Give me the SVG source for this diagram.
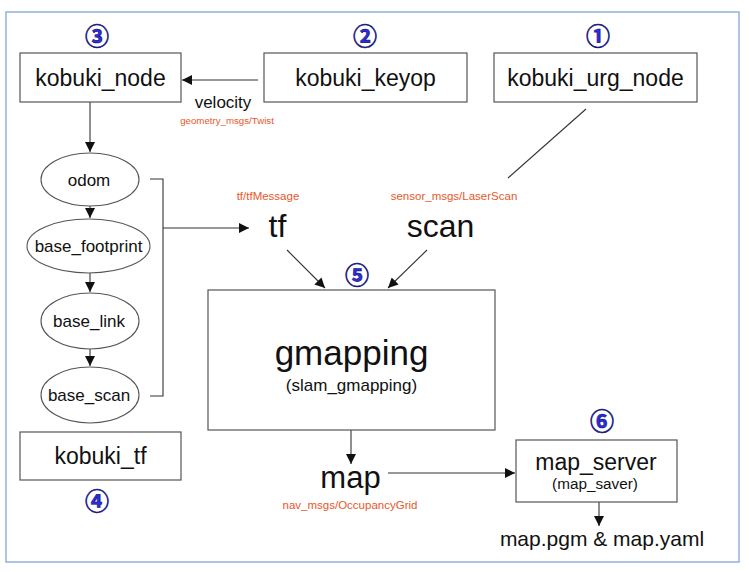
<svg xmlns="http://www.w3.org/2000/svg" width="749" height="572" viewBox="0 0 749 572">
<style>
.frame{fill:#fff;stroke:#95b0dc;stroke-width:1.5}
.box{fill:#fff;stroke:#555;stroke-width:1.2}
.ell{fill:#fff;stroke:#555;stroke-width:1.1}
.t{font-family:"Liberation Sans",Arial,sans-serif;fill:#111;text-anchor:middle}
.msg{font-family:"Liberation Sans",Arial,sans-serif;fill:#e8582a;text-anchor:middle;font-size:11.5px}
.num{font-family:"Noto Sans CJK JP","DejaVu Sans",sans-serif;font-weight:bold;fill:#2c2ce0;stroke:#10106a;stroke-width:0.6;text-anchor:middle;font-size:24px}
.ln{fill:none;stroke:#333;stroke-width:1.1}
</style>
<defs>
<marker id="ah" viewBox="0 0 10 10" refX="10" refY="5" markerWidth="10" markerHeight="10" markerUnits="userSpaceOnUse" orient="auto">
<path d="M0,0 L10,5 L0,10 z" fill="#111"/>
</marker>
</defs>
<rect class="frame" x="6" y="12" width="733" height="550"/>

<g id="connectors">
<line class="ln" x1="258" y1="80" x2="182" y2="80" marker-end="url(#ah)"/>
<line class="ln" x1="90" y1="102" x2="90" y2="152" marker-end="url(#ah)"/>
<line class="ln" x1="90" y1="206" x2="90" y2="218" marker-end="url(#ah)"/>
<line class="ln" x1="90" y1="273" x2="90" y2="292" marker-end="url(#ah)"/>
<line class="ln" x1="90" y1="349" x2="90" y2="366" marker-end="url(#ah)"/>
<polyline class="ln" points="150,179 163,179 163,396 150,396"/>
<line class="ln" x1="163" y1="228" x2="249" y2="228" marker-end="url(#ah)"/>
<line class="ln" x1="586" y1="109" x2="508" y2="178"/>
<line class="ln" x1="287" y1="250" x2="325" y2="288" marker-end="url(#ah)"/>
<line class="ln" x1="427" y1="250" x2="388" y2="288" marker-end="url(#ah)"/>
<line class="ln" x1="351" y1="430" x2="351" y2="464" marker-end="url(#ah)"/>
<line class="ln" x1="388" y1="473" x2="515" y2="473" marker-end="url(#ah)"/>
<line class="ln" x1="599" y1="502" x2="599" y2="526" marker-end="url(#ah)"/>
</g>

<g id="kobuki_node">
<rect class="box" x="20" y="53" width="161" height="49"/>
<text class="t" x="100.5" y="86" font-size="23">kobuki_node</text>
<text class="num" x="97" y="45">③</text>
</g>
<g id="kobuki_keyop">
<rect class="box" x="264" y="53" width="203" height="49"/>
<text class="t" x="365.5" y="86" font-size="23">kobuki_keyop</text>
<text class="num" x="365" y="45">②</text>
</g>
<g id="kobuki_urg_node">
<rect class="box" x="494" y="53" width="203" height="49"/>
<text class="t" x="595.5" y="86" font-size="23">kobuki_urg_node</text>
<text class="num" x="598" y="45">①</text>
</g>
<g id="velocity">
<text class="t" x="223" y="108" font-size="17">velocity</text>
<text class="msg" x="227" y="124" style="font-size:9.7px">geometry_msgs/Twist</text>
</g>
<g id="odom">
<ellipse class="ell" cx="90" cy="179.5" rx="49" ry="26.5"/>
<text class="t" x="89" y="185.5" font-size="17">odom</text>
</g>
<g id="base_footprint">
<ellipse class="ell" cx="88.5" cy="246" rx="61.5" ry="27"/>
<text class="t" x="88.5" y="252" font-size="17">base_footprint</text>
</g>
<g id="base_link">
<ellipse class="ell" cx="90" cy="321" rx="49" ry="28"/>
<text class="t" x="89" y="327" font-size="17">base_link</text>
</g>
<g id="base_scan">
<ellipse class="ell" cx="90" cy="395" rx="49" ry="28"/>
<text class="t" x="89" y="401" font-size="17">base_scan</text>
</g>
<g id="kobuki_tf">
<rect class="box" x="20" y="432" width="161" height="48"/>
<text class="t" x="100.5" y="464" font-size="23">kobuki_tf</text>
<text class="num" x="97" y="510">④</text>
</g>
<g id="tf">
<text class="msg" x="268" y="200">tf/tfMessage</text>
<text class="t" x="277.5" y="237" font-size="32">tf</text>
</g>
<g id="scan">
<text class="msg" x="454" y="200">sensor_msgs/LaserScan</text>
<text class="t" x="440.5" y="237" font-size="32">scan</text>
</g>
<g id="gmapping">
<rect class="box" x="208" y="290" width="287" height="140"/>
<text class="t" x="351.5" y="365" font-size="35">gmapping</text>
<text class="t" x="351.5" y="391" font-size="17">(slam_gmapping)</text>
<text class="num" x="357" y="284">⑤</text>
</g>
<g id="map">
<text class="t" x="350.5" y="488" font-size="31">map</text>
<text class="msg" x="350" y="509">nav_msgs/OccupancyGrid</text>
</g>
<g id="map_server">
<rect class="box" x="516" y="440" width="161" height="62"/>
<text class="t" x="596" y="470" font-size="23">map_server</text>
<text class="t" x="595" y="489" font-size="15.3">(map_saver)</text>
<text class="num" x="602" y="430">⑥</text>
</g>
<g id="map_files">
<text class="t" x="602" y="546" font-size="21">map.pgm &amp; map.yaml</text>
</g>
</svg>
